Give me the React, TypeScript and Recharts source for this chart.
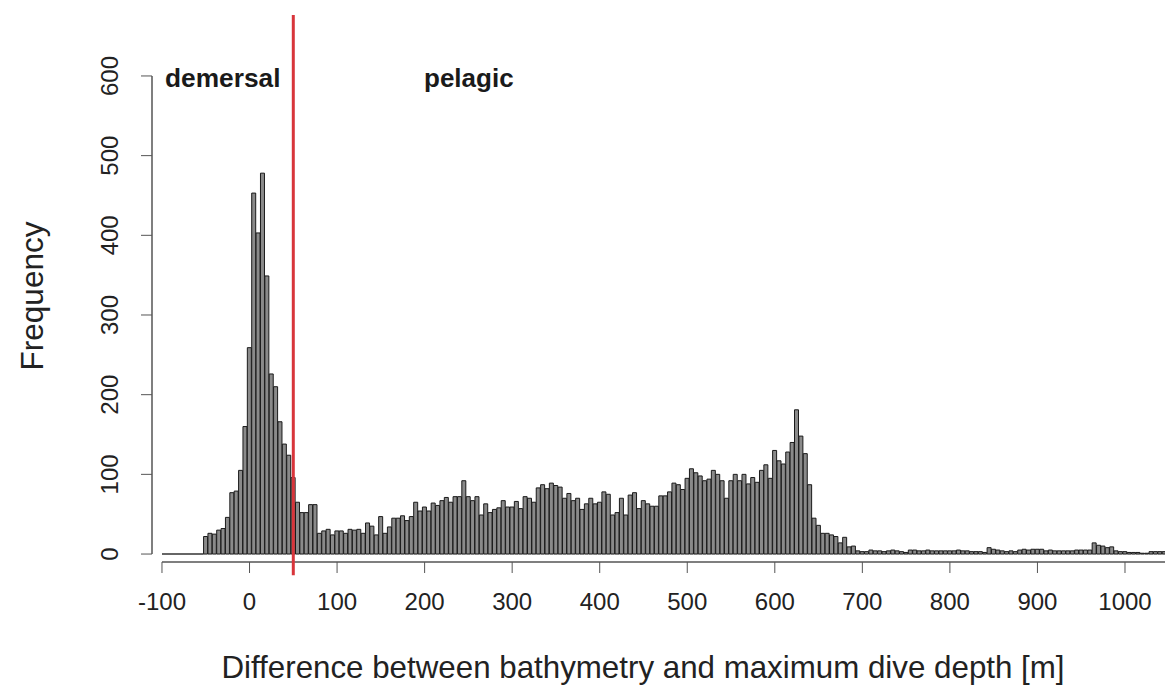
import React from 'react';
import { ComposedChart, Bar, XAxis, YAxis, ReferenceLine } from 'recharts';

// histogram bins: 5 m wide, centred on multiples of 5, first filled bin at -50
const BIN_START = -50;
const BIN_WIDTH = 5;

// frequency per bin, one row per 100 m
const frequency = [
  22, 26, 25, 30, 32, 46, 77, 79, 105, 160, 259, 453, 403, 478, 349, 226, 210, 166, 138, 124, // -50 .. 45
  96, 65, 52, 52, 62, 62, 26, 29, 31, 24, 29, 29, 26, 31, 30, 31, 26, 39, 35, 24, // 50 .. 145
  47, 26, 34, 45, 45, 48, 42, 47, 65, 54, 59, 54, 64, 61, 67, 71, 65, 72, 72, 92, // 150 .. 245
  72, 67, 72, 49, 63, 52, 56, 58, 67, 59, 59, 66, 57, 72, 70, 65, 83, 87, 82, 89, // 250 .. 345
  86, 84, 70, 76, 67, 70, 56, 63, 70, 63, 65, 78, 75, 49, 52, 70, 49, 74, 77, 57, // 350 .. 445
  67, 63, 60, 60, 73, 73, 78, 89, 87, 81, 95, 107, 102, 98, 92, 94, 105, 100, 92, 70, // 450 .. 545
  92, 100, 92, 100, 88, 96, 90, 105, 112, 95, 130, 117, 113, 128, 140, 181, 148, 126, 87, 45, // 550 .. 645
  36, 26, 26, 24, 22, 14, 21, 9, 10, 4, 3, 3, 5, 4, 4, 3, 4, 5, 4, 3, // 650 .. 745
  2, 5, 5, 4, 4, 5, 4, 4, 4, 4, 4, 4, 5, 4, 4, 3, 3, 3, 2, 8, // 750 .. 845
  6, 5, 4, 3, 4, 3, 5, 6, 5, 6, 6, 6, 4, 5, 4, 4, 4, 4, 4, 5, // 850 .. 945
  5, 5, 5, 14, 11, 10, 8, 9, 4, 3, 3, 2, 2, 2, 1, 1, 3, 3, 3, 3, // 950 .. 1045
];

const xTicks = [-100, 0, 100, 200, 300, 400, 500, 600, 700, 800, 900, 1000];
const yTicks = [0, 100, 200, 300, 400, 500, 600];

const SPLIT_DEPTH = 50; // demersal / pelagic boundary
const EMPTY_FROM = -100; // empty bins before the first filled one

const X_DOMAIN: [number, number] = [-111.4, 1045.7];
const Y_DOMAIN: [number, number] = [-10, 676.5];

const data = frequency.map((f, i) => ({
  depth: BIN_START + i * BIN_WIDTH,
  frequency: f,
}));

const FONT = '"Liberation Sans", Arial, Helvetica, sans-serif';
const TEXT = '#222';
const AXIS = '#555';

const YTick = (props: any) => {
  const { x, y, payload } = props;
  const bx = x - 22.5;
  return (
    <text
      x={bx}
      y={y}
      transform={`rotate(-90 ${bx} ${y})`}
      textAnchor="middle"
      fontSize={24}
      fill={TEXT}
    >
      {payload.value}
    </text>
  );
};

export default function App() {
  return (
    <div style={{ position: 'absolute', left: 0, top: 0, fontFamily: FONT, background: '#fff' }}>
      <ComposedChart
        width={1165}
        height={686}
        data={data}
        margin={{ top: 15, right: 0, bottom: 64, left: 92 }}
        barCategoryGap={0}
        barGap={0}
      >
        <XAxis
          dataKey="depth"
          type="number"
          domain={X_DOMAIN}
          allowDataOverflow
          ticks={xTicks}
          interval={0}
          axisLine={false}
          tickLine={{ stroke: AXIS }}
          tickSize={11}
          tickMargin={20}
          tick={{ fontSize: 24, fill: TEXT }}
          height={60}
        />
        <YAxis
          type="number"
          domain={Y_DOMAIN}
          allowDataOverflow
          ticks={yTicks}
          interval={0}
          axisLine={false}
          tickLine={{ stroke: AXIS }}
          tickSize={11}
          tickMargin={0}
          tick={<YTick />}
          width={60}
        />
        <Bar
          dataKey="frequency"
          fill="#8a8a8a"
          stroke="#1a1a1a"
          strokeWidth={1}
          isAnimationActive={false}
        />
        {/* empty bins drawn as a flat line, like R does */}
        <ReferenceLine
          segment={[{ x: EMPTY_FROM, y: 0 }, { x: BIN_START - BIN_WIDTH / 2, y: 0 }]}
          stroke="#333"
          strokeWidth={1.5}
          ifOverflow="visible"
        />
        {/* axis lines */}
        <ReferenceLine
          segment={[{ x: xTicks[0], y: Y_DOMAIN[0] }, { x: X_DOMAIN[1], y: Y_DOMAIN[0] }]}
          stroke={AXIS}
          strokeWidth={1.5}
          ifOverflow="visible"
        />
        <ReferenceLine
          segment={[{ x: X_DOMAIN[0], y: yTicks[0] }, { x: X_DOMAIN[0], y: yTicks[yTicks.length - 1] }]}
          stroke={AXIS}
          strokeWidth={1.5}
          ifOverflow="visible"
        />
        <ReferenceLine
          segment={[{ x: SPLIT_DEPTH, y: -26.5 }, { x: SPLIT_DEPTH, y: Y_DOMAIN[1] }]}
          stroke="#d8353b"
          strokeWidth={3}
          ifOverflow="visible"
        />
        <text x={165} y={87} fontSize={26.3} fontWeight="bold" fill="#1a1a1a">demersal</text>
        <text x={424} y={87} fontSize={26} fontWeight="bold" fill="#1a1a1a">pelagic</text>
        <text
          x={43}
          y={296}
          transform="rotate(-90 43 296)"
          textAnchor="middle"
          fontSize={31.5}
          fill={TEXT}
        >
          Frequency
        </text>
        <text x={643} y={678} textAnchor="middle" fontSize={31.3} fill={TEXT}>
          Difference between bathymetry and maximum dive depth [m]
        </text>
      </ComposedChart>
    </div>
  );
}
